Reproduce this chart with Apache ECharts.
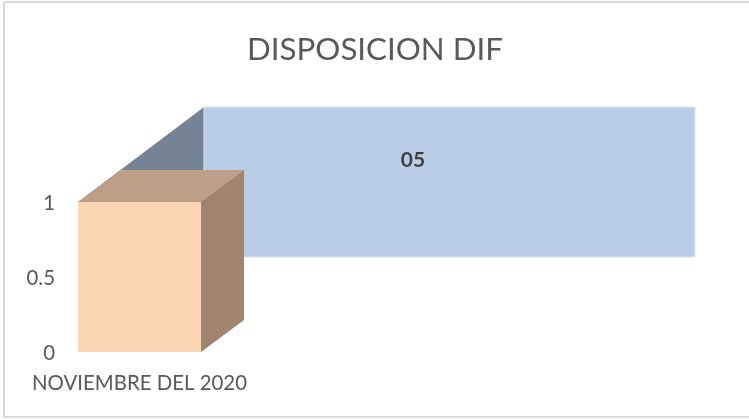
<!DOCTYPE html>
<html>
<head>
<meta charset="utf-8">
<title>DISPOSICION DIF</title>
<script src="https://cdn.jsdelivr.net/npm/echarts@6/dist/echarts.min.js"></script>
<style>
  html, body { margin: 0; padding: 0; background: #fff; }
  #main { width: 749px; height: 419px; }
</style>
</head>
<body>
<div id="main"></div>
<script>
const categories = ['NOVIEMBRE DEL 2020'];
const frontValues = [1];
const backValues = [1];
const backLabels = ['05'];
const yTicks = { min: 0, max: 1, interval: 0.5 };

// how far the 3D faces are pushed, in px
const DEPTH_X = 43;
const DEPTH_Y = 32;
const BACK_X = 126;
const BACK_Y = 95;
const BACK_WIDTH = 491;

const chart = echarts.init(document.getElementById('main'), null, { renderer: 'canvas' });

function poly(points, fill) {
  return { type: 'polygon', shape: { points: points }, style: { fill: fill, stroke: null } };
}

// front box: face, top and right side
function renderFront(params, api) {
  const base = api.coord([api.value(0), 0]);
  const top = api.coord([api.value(0), api.value(1)]);
  const w = api.size([1, 0])[0];
  const x0 = base[0] - w / 2;
  const x1 = base[0] + w / 2;
  const y0 = base[1];
  const y1 = top[1];
  return {
    type: 'group',
    children: [
      poly([[x0, y1], [x0 + DEPTH_X, y1 - DEPTH_Y], [x1 + DEPTH_X, y1 - DEPTH_Y], [x1, y1]], '#bd9f87'),
      poly([[x1, y1], [x1 + DEPTH_X, y1 - DEPTH_Y], [x1 + DEPTH_X, y0 - DEPTH_Y], [x1, y0]], '#a18470'),
      poly([[x0, y1], [x1, y1], [x1, y0], [x0, y0]], '#fcd5b5')
    ]
  };
}

// back series: long face with its dark left side running to the front
function renderBack(params, api) {
  const base = api.coord([api.value(0), 0]);
  const top = api.coord([api.value(0), api.value(1)]);
  const w = api.size([1, 0])[0];
  const x0 = base[0] - w / 2;
  const y0 = base[1];
  const y1 = top[1];
  const fx = x0 + BACK_X;
  return {
    type: 'group',
    children: [
      poly([[x0, y1], [fx, y1 - BACK_Y], [fx, y0 - BACK_Y], [x0, y0]], '#748494'),
      {
        type: 'rect',
        shape: { x: fx, y: y1 - BACK_Y, width: BACK_WIDTH, height: y0 - y1 },
        style: { fill: '#b9cde5', stroke: '#dce6f2', lineWidth: 1 }
      },
      {
        type: 'text',
        x: fx + 209,
        y: y1 - BACK_Y + 53,
        style: {
          text: backLabels[params.dataIndex],
          fill: '#404040',
          font: 'bold 21px Lato',
          align: 'center',
          verticalAlign: 'middle'
        }
      }
    ]
  };
}

const options = {
  backgroundColor: '#fff',
  animation: false,
  title: {
    text: 'DISPOSICION DIF',
    left: 370,
    textAlign: 'center',
    top: 29,
    textStyle: { color: '#595959', fontFamily: 'Lato', fontWeight: 'normal', fontSize: 31.3 }
  },
  grid: { left: 78, right: 548, top: 202, bottom: 67 },
  xAxis: {
    type: 'category',
    data: categories,
    axisLine: { show: false },
    axisTick: { show: false },
    splitLine: { show: false },
    axisLabel: { interval: 0, margin: 21, color: '#595959', fontFamily: 'Lato', fontSize: 20.4 }
  },
  yAxis: {
    type: 'value',
    min: yTicks.min,
    max: yTicks.max,
    interval: yTicks.interval,
    axisLine: { show: false },
    axisTick: { show: false },
    splitLine: { show: false },
    axisLabel: {
      margin: 23,
      formatter: '{a|{value}}',
      rich: { a: { padding: [3, 0, 0, 0], color: '#595959', fontFamily: 'Lato', fontSize: 20.4 } }
    }
  },
  series: [
    {
      name: 'back',
      type: 'custom',
      renderItem: renderBack,
      clip: false,
      encode: { x: 0, y: 1 },
      data: backValues.map((v, i) => [i, v]),
      z: 1
    },
    {
      name: 'front',
      type: 'custom',
      renderItem: renderFront,
      clip: false,
      encode: { x: 0, y: 1 },
      data: frontValues.map((v, i) => [i, v]),
      z: 2
    }
  ],
  // frame of the picture, no line on the right
  graphic: [
    { type: 'line', shape: { x1: 4, y1: 2, x2: 749, y2: 2 }, style: { stroke: '#d9d9d9', lineWidth: 2 } },
    { type: 'line', shape: { x1: 4, y1: 2, x2: 4, y2: 418 }, style: { stroke: '#d9d9d9', lineWidth: 2 } },
    { type: 'line', shape: { x1: 4, y1: 417, x2: 749, y2: 417 }, style: { stroke: '#d9d9d9', lineWidth: 2 } }
  ]
};

chart.setOption(options);
</script>
</body>
</html>
